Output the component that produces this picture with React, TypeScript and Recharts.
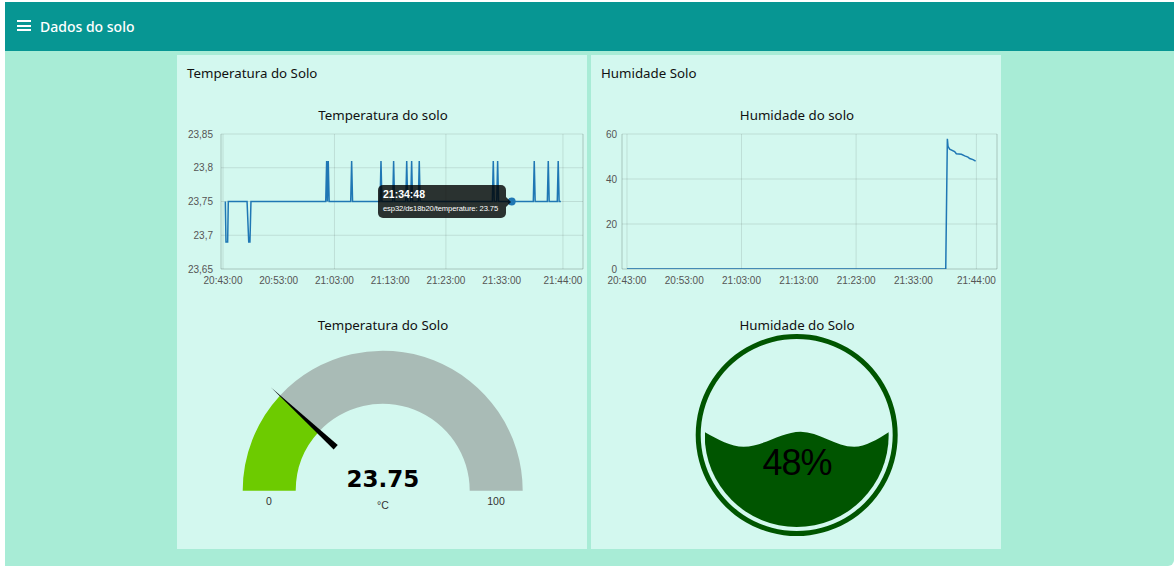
import React from 'react';
import {
  LineChart, Line, XAxis, YAxis, CartesianGrid, Tooltip, ReferenceLine,
  PieChart, Pie, Cell, AreaChart, Area,
} from 'recharts';

// temperature samples (time, °C)
const tempTimes = [
  '20:43:25', '20:43:32', '20:43:50', '20:43:57',
  '20:47:19', '20:47:37', '20:47:50', '20:48:01',
  '21:01:26', '21:01:36', '21:01:44', '21:01:53', '21:02:03',
  '21:05:55', '21:06:05', '21:06:15',
  '21:11:11', '21:11:21', '21:11:31',
  '21:13:27', '21:13:37', '21:13:47',
  '21:15:48', '21:15:58', '21:16:08',
  '21:16:41', '21:16:51', '21:17:01',
  '21:18:03', '21:18:13', '21:18:23',
  '21:31:20', '21:31:30', '21:31:40',
  '21:32:07', '21:32:17', '21:32:27',
  '21:34:48',
  '21:38:41', '21:38:51', '21:39:01',
  '21:41:12', '21:41:22', '21:41:32',
  '21:42:59', '21:43:09', '21:43:19',
  '21:43:38',
];
const tempValues = [
  23.75, 23.69, 23.69, 23.75,
  23.75, 23.69, 23.69, 23.75,
  23.75, 23.81, 23.75, 23.81, 23.75,
  23.75, 23.81, 23.75,
  23.75, 23.81, 23.75,
  23.75, 23.81, 23.75,
  23.75, 23.81, 23.75,
  23.75, 23.81, 23.75,
  23.75, 23.81, 23.75,
  23.75, 23.81, 23.75,
  23.75, 23.81, 23.75,
  23.75,
  23.75, 23.81, 23.75,
  23.75, 23.81, 23.75,
  23.75, 23.81, 23.75,
  23.75,
];

// humidity samples (time, %)
const humTimes = [
  '20:43:00', '21:38:39', '21:38:56', '21:39:03', '21:39:20', '21:40:12',
  '21:40:30', '21:41:23', '21:41:58', '21:42:32', '21:42:50', '21:43:25', '21:43:52',
];
const humValues = [0, 0, 57.9, 54.5, 53.3, 52.2, 51.2, 51.0, 50.3, 49.7, 49.1, 48.6, 47.9];

const timeTicks = [0, 10, 20, 30, 40, 50, 61];
const tempTicks = [23.65, 23.7, 23.75, 23.8, 23.85];
const humTicks = [0, 20, 40, 60];

const tooltipTime = '21:34:48';
const tooltipSeries = 'esp32/ds18b20/temperature';

const gaugeValue = 23.75;
const gaugeMin = 0;
const gaugeMax = 100;
const gaugeUnit = '°C';

const soilLevel = 48;
// surface of the liquid: position across the glass (0..1) and level (%)
const waveX = [0, 0.21, 0.52, 0.81, 1];
const waveLevel = [51.5, 43.6, 51.8, 43.6, 51.6];

const BASE = 20 * 60 + 43;
const toMin = (s: string) => {
  const [h, m, sec] = s.split(':').map(Number);
  return h * 60 + m + sec / 60 - BASE;
};
const fmtTime = (v: number) => {
  const total = Math.round((v + BASE) * 60);
  const h = Math.floor(total / 3600);
  const m = Math.floor((total % 3600) / 60);
  const s = total % 60;
  const p = (n: number) => String(n).padStart(2, '0');
  return `${p(h)}:${p(m)}:${p(s)}`;
};

const tempData = tempTimes.map((time, i) => ({ time, t: toMin(time), v: tempValues[i] }));
const humData = humTimes.map((time, i) => ({ time, t: toMin(time), v: humValues[i] }));
const waveData = waveX.map((x, i) => ({ x, level: waveLevel[i] }));
const gaugeData = [
  { name: 'value', v: gaugeValue - gaugeMin },
  { name: 'rest', v: gaugeMax - gaugeValue },
];
const tipIndex = tempData.findIndex((d) => d.time === tooltipTime);

const TITLE_FONT = '"Noto Sans", sans-serif';
const AXIS_FONT = '"Liberation Sans", Arial, sans-serif';
const GRID = 'rgba(0,0,0,0.1)';
const LINE = '#1f77b4';

const tickStyle = { fontSize: 10, fill: '#555', fontFamily: AXIS_FONT };

const TempTip = (props: any) => {
  const { active, payload } = props;
  if (!active || !payload || !payload.length) return null;
  const d = payload[0].payload;
  return (
    <div style={{ position: 'relative', width: 128, height: 33, background: 'rgba(0,0,0,0.8)', borderRadius: 5, color: '#fff', fontFamily: AXIS_FONT }}>
      <div style={{ position: 'absolute', left: 5, top: 3, fontSize: 10.5, fontWeight: 'bold' }}>{d.time}</div>
      <div style={{ position: 'absolute', left: 5, top: 19, fontSize: 7.6, whiteSpace: 'nowrap', letterSpacing: -0.1 }}>{`${tooltipSeries}: ${d.v}`}</div>
      <div style={{ position: 'absolute', right: -5, top: 12, width: 0, height: 0, borderTop: '5px solid transparent', borderBottom: '5px solid transparent', borderLeft: '5px solid rgba(0,0,0,0.8)' }} />
    </div>
  );
};

const Panel: React.FC<{ left: number; children?: React.ReactNode }> = ({ left, children }) => (
  <div style={{ position: 'absolute', left, top: 55, width: 410, height: 494, background: '#d3f8ef' }}>{children}</div>
);

export default function App() {
  // gauge geometry
  const gcx = 205.7;
  const gcy = 190.7;
  const ang = (180 - ((gaugeValue - gaugeMin) / (gaugeMax - gaugeMin)) * 180) * Math.PI / 180;
  const ux = Math.cos(ang);
  const uy = -Math.sin(ang);
  const tip = [gcx + 152 * ux, 245 + gcy + 152 * uy];
  const base = [gcx + 64 * ux, 245 + gcy + 64 * uy];
  const px = -uy * 3;
  const py = ux * 3;
  const needle = `${tip[0]},${tip[1]} ${base[0] + px},${base[1] + py} ${base[0] - px},${base[1] - py}`;

  return (
    <div style={{ position: 'relative', width: 1174, height: 569, background: '#fff', overflow: 'hidden' }}>
      <style>{'body{margin:0}'}</style>
      <div style={{ position: 'absolute', left: 5, top: 2, width: 1169, height: 564, background: '#a8ecd6', borderBottomRightRadius: 6 }} />
      <div style={{ position: 'absolute', left: 5, top: 2, width: 1169, height: 49, background: '#079693' }}>
        {[20, 24.5, 29].map((y) => (
          <div key={y} style={{ position: 'absolute', left: 12, top: y - 2, width: 14, height: 2, background: '#fff' }} />
        ))}
        <div style={{ position: 'absolute', left: 35, top: 15, color: '#fff', fontFamily: TITLE_FONT, fontSize: 14, fontWeight: 500 }}>Dados do solo</div>
      </div>

      <Panel left={177}>
        <svg width={410} height={494} style={{ position: 'absolute', left: 0, top: 0, pointerEvents: 'none' }}>
          <text x={10} y={23} fontFamily={TITLE_FONT} fontSize={13.3} fill="#111">Temperatura do Solo</text>
          <text x={206} y={65} textAnchor="middle" fontFamily={TITLE_FONT} fontSize={13.3} fill="#111">Temperatura do solo</text>
          <text x={206} y={275} textAnchor="middle" fontFamily={TITLE_FONT} fontSize={13.3} fill="#111">Temperatura do Solo</text>
        </svg>
        <div style={{ position: 'absolute', left: 0, top: 70 }}>
          <LineChart width={410} height={170} data={tempData} margin={{ top: 9, right: 4, bottom: 0, left: 0 }}>
            <CartesianGrid stroke={GRID} />
            <XAxis dataKey="t" type="number" domain={[-0.36, 64.6]} ticks={timeTicks} tickFormatter={fmtTime}
              tick={tickStyle} tickSize={0} tickMargin={8} height={26} stroke={GRID} allowDataOverflow />
            <YAxis type="number" domain={[23.65, 23.85]} ticks={tempTicks} tickFormatter={(v: number) => String(v).replace('.', ',')}
              tick={tickStyle} tickSize={0} tickMargin={8} width={44} stroke={GRID} allowDataOverflow />
            <ReferenceLine x={64.6} stroke={GRID} />
            <Tooltip active defaultIndex={tipIndex} cursor={false} isAnimationActive={false}
              position={{ x: 201, y: 60 }} content={TempTip} wrapperStyle={{ outline: 'none' }} />
            <Line type="linear" dataKey="v" stroke={LINE} strokeWidth={1.5} dot={false}
              activeDot={{ r: 4, fill: LINE, stroke: 'none' }} isAnimationActive={false} />
          </LineChart>
        </div>
        <div style={{ position: 'absolute', left: 0, top: 245 }}>
          <PieChart width={410} height={230} margin={{ top: 0, right: 0, bottom: 0, left: 0 }}>
            <Pie data={gaugeData} dataKey="v" cx={gcx} cy={gcy} innerRadius={87} outerRadius={140}
              startAngle={180} endAngle={0} stroke="none" isAnimationActive={false}>
              <Cell fill="#6dcb00" />
              <Cell fill="#a9bbb6" />
            </Pie>
          </PieChart>
        </div>
        <svg width={410} height={494} style={{ position: 'absolute', left: 0, top: 0, pointerEvents: 'none' }}>
          <polygon points={needle} fill="#000" />
          <text x={206} y={432} textAnchor="middle" fontFamily='"DejaVu Sans", sans-serif' fontWeight="bold" fontSize={23} fill="#000">{gaugeValue.toFixed(2)}</text>
          <text x={206} y={454} textAnchor="middle" fontFamily={AXIS_FONT} fontSize={10.5} fill="#333">{gaugeUnit}</text>
          <text x={92} y={450} textAnchor="middle" fontFamily={AXIS_FONT} fontSize={10.5} fill="#333">{gaugeMin}</text>
          <text x={319} y={450} textAnchor="middle" fontFamily={AXIS_FONT} fontSize={10.5} fill="#333">{gaugeMax}</text>
        </svg>
      </Panel>

      <Panel left={591}>
        <svg width={410} height={494} style={{ position: 'absolute', left: 0, top: 0, pointerEvents: 'none' }}>
          <text x={10} y={23} fontFamily={TITLE_FONT} fontSize={13.3} fill="#111">Humidade Solo</text>
          <text x={206} y={65} textAnchor="middle" fontFamily={TITLE_FONT} fontSize={13.3} fill="#111">Humidade do solo</text>
          <text x={206} y={275} textAnchor="middle" fontFamily={TITLE_FONT} fontSize={13.3} fill="#111">Humidade do Solo</text>
        </svg>
        <div style={{ position: 'absolute', left: 0, top: 70 }}>
          <LineChart width={410} height={170} data={humData} margin={{ top: 9, right: 4, bottom: 0, left: 0 }}>
            <CartesianGrid stroke={GRID} />
            <XAxis dataKey="t" type="number" domain={[-0.87, 64.6]} ticks={timeTicks} tickFormatter={fmtTime}
              tick={tickStyle} tickSize={0} tickMargin={8} height={26} stroke={GRID} allowDataOverflow />
            <YAxis type="number" domain={[0, 60]} ticks={humTicks}
              tick={tickStyle} tickSize={0} tickMargin={5} width={31} stroke={GRID} allowDataOverflow />
            <ReferenceLine x={64.6} stroke={GRID} />
            <Line type="linear" dataKey="v" stroke={LINE} strokeWidth={1.5} dot={false} isAnimationActive={false} />
          </LineChart>
        </div>
        <div style={{ position: 'absolute', left: 0, top: 270 }}>
          <PieChart width={410} height={230} margin={{ top: 0, right: 0, bottom: 0, left: 0 }}>
            <Pie data={[{ v: 1 }]} dataKey="v" cx={205.7} cy={110} innerRadius={96} outerRadius={101}
              startAngle={90} endAngle={-270} stroke="none" fill="#005500" isAnimationActive={false} />
          </PieChart>
        </div>
        <div style={{ position: 'absolute', left: 113.7, top: 288, width: 184, height: 184, clipPath: 'circle(92px at 92px 92px)' }}>
          <AreaChart width={184} height={184} data={waveData} margin={{ top: 0, right: 0, bottom: 0, left: 0 }}>
            <XAxis dataKey="x" type="number" domain={[0, 1]} hide />
            <YAxis type="number" domain={[0, 100]} hide />
            <Area type="monotone" dataKey="level" stroke="none" fill="#005500" fillOpacity={1} isAnimationActive={false} />
          </AreaChart>
        </div>
        <svg width={410} height={494} style={{ position: 'absolute', left: 0, top: 0, pointerEvents: 'none' }}>
          <text x={206} y={420} textAnchor="middle" fontFamily={AXIS_FONT} fontSize={36} letterSpacing={-1} fill="#000">{`${soilLevel}%`}</text>
        </svg>
      </Panel>
    </div>
  );
}
